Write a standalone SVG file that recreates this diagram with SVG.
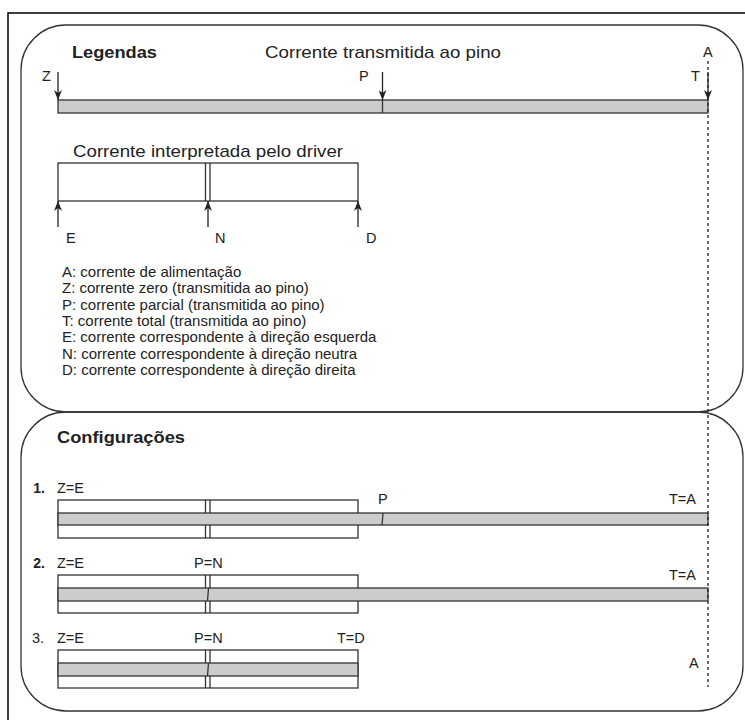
<svg xmlns="http://www.w3.org/2000/svg" width="745" height="720" viewBox="0 0 745 720">
<style>
text{font-family:"Liberation Sans",Arial,sans-serif;fill:#222}
.h{font-size:17px;font-weight:bold}
.t{font-size:17px}
.s{font-size:14.5px}
.l{font-size:15px}
.n{font-size:14px;font-weight:bold}
.box{fill:none;stroke:#333;stroke-width:1.3}
.w{fill:#fff;stroke:#333;stroke-width:1.3}
.g{fill:#cccccc;stroke:#333;stroke-width:1.3}
.ln{stroke:#333;stroke-width:1.3;fill:none}
.ar{stroke:#222;stroke-width:1.3;fill:none;marker-end:url(#arr)}
</style>
<defs>
<marker id="arr" markerUnits="userSpaceOnUse" markerWidth="10" markerHeight="8" refX="10" refY="4" orient="auto">
<path d="M0,0 L10,4 L0,8 L3,4 z" fill="#222"/>
</marker>
</defs>
<rect x="8" y="13" width="745" height="715" fill="#fff" stroke="#000" stroke-width="1.5"/>

<g id="legendas">
<rect class="box" x="21" y="25" width="722" height="387" rx="45" ry="45"/>
<text class="h" x="72" y="58" textLength="85" lengthAdjust="spacingAndGlyphs">Legendas</text>
<text class="t" x="265" y="58" textLength="236" lengthAdjust="spacingAndGlyphs">Corrente transmitida ao pino</text>
</g>

<g id="corrente-transmitida">
<rect class="g" x="58" y="100" width="650" height="13"/>
<line class="ln" x1="382.5" y1="100" x2="382.5" y2="113"/>
<text class="s" x="42" y="81">Z</text>
<text class="s" x="359" y="81">P</text>
<text class="s" x="691" y="81">T</text>
<text class="s" x="703" y="57">A</text>
</g>

<g id="corrente-driver">
<text class="t" x="73" y="157" textLength="270" lengthAdjust="spacingAndGlyphs">Corrente interpretada pelo driver</text>
<rect class="w" x="58" y="163" width="300" height="38"/>
<line class="ln" x1="205.5" y1="163" x2="205.5" y2="201"/>
<line class="ln" x1="210" y1="163" x2="210" y2="201"/>
<text class="s" x="66" y="243">E</text>
<text class="s" x="215" y="243">N</text>
<text class="s" x="366" y="243">D</text>
</g>

<g id="lista">
<text class="l" x="62" y="277">A: corrente de alimentação</text>
<text class="l" x="62" y="293.3">Z: corrente zero (transmitida ao pino)</text>
<text class="l" x="62" y="309.6">P: corrente parcial (transmitida ao pino)</text>
<text class="l" x="62" y="325.9">T: corrente total (transmitida ao pino)</text>
<text class="l" x="62" y="342.2">E: corrente correspondente à direção esquerda</text>
<text class="l" x="62" y="358.5">N: corrente correspondente à direção neutra</text>
<text class="l" x="62" y="374.8">D: corrente correspondente à direção direita</text>
</g>

<g id="configuracoes">
<rect class="box" x="21" y="412" width="722" height="299" rx="45" ry="45"/>
<text class="h" x="57" y="443" textLength="128" lengthAdjust="spacingAndGlyphs">Configurações</text>
</g>

<g id="config-1">
<text class="n" x="45" y="493" text-anchor="end">1.</text>
<text class="s" x="57" y="493">Z=E</text>
<rect class="w" x="58" y="500" width="300" height="38"/>
<line class="ln" x1="205.5" y1="500" x2="205.5" y2="538"/>
<line class="ln" x1="210" y1="500" x2="210" y2="538"/>
<rect class="g" x="58" y="513" width="650" height="12"/>
<line class="ln" x1="383" y1="513" x2="382" y2="525"/>
<text class="s" x="378" y="504">P</text>
<text class="s" x="669" y="504">T=A</text>
</g>

<g id="config-2">
<text class="n" x="45" y="568" text-anchor="end">2.</text>
<text class="s" x="57" y="568">Z=E</text>
<text class="s" x="194" y="568">P=N</text>
<rect class="w" x="58" y="575" width="300" height="38"/>
<line class="ln" x1="205.5" y1="575" x2="205.5" y2="613"/>
<line class="ln" x1="210" y1="575" x2="210" y2="613"/>
<rect class="g" x="58" y="588" width="650" height="13"/>
<line class="ln" x1="208.5" y1="588" x2="207.5" y2="601"/>
<text class="s" x="669" y="580">T=A</text>
</g>

<g id="config-3">
<text class="s" x="44" y="643" text-anchor="end">3.</text>
<text class="s" x="57" y="643">Z=E</text>
<text class="s" x="194" y="643">P=N</text>
<text class="s" x="337" y="643">T=D</text>
<rect class="w" x="58" y="650" width="300" height="38"/>
<line class="ln" x1="205.5" y1="650" x2="205.5" y2="688"/>
<line class="ln" x1="210" y1="650" x2="210" y2="688"/>
<rect class="g" x="58" y="663" width="300" height="13"/>
<line class="ln" x1="208.5" y1="663" x2="207.5" y2="676"/>
<text class="s" x="689" y="668">A</text>
</g>

<g id="connectors">
<line x1="708" y1="61" x2="708" y2="687" stroke="#222" stroke-width="1.3" stroke-dasharray="3 3"/>
<line class="ar" x1="58" y1="72" x2="58" y2="100"/>
<line class="ar" x1="382.5" y1="72" x2="382.5" y2="100"/>
<line class="ar" x1="708" y1="72" x2="708" y2="100"/>
<line class="ar" x1="58" y1="227" x2="58" y2="201"/>
<line class="ar" x1="208" y1="227" x2="208" y2="201"/>
<line class="ar" x1="358" y1="227" x2="358" y2="201"/>
</g>
</svg>
